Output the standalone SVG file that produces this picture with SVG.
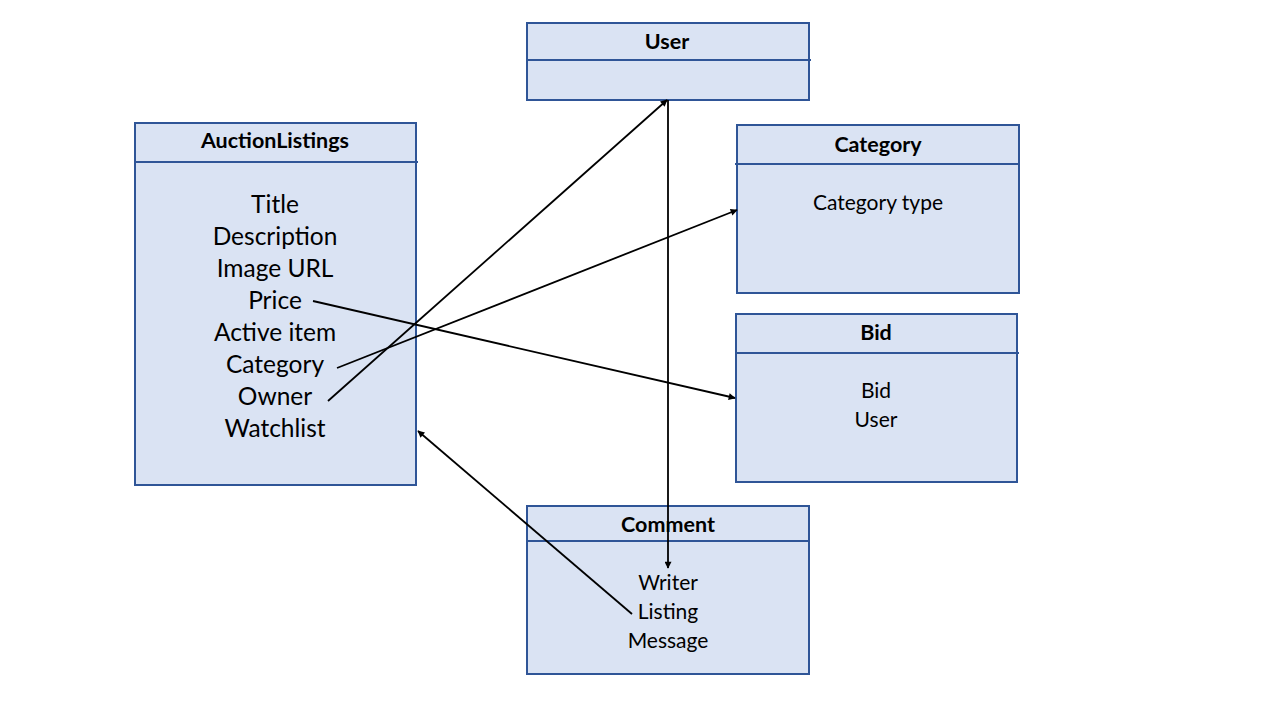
<svg xmlns="http://www.w3.org/2000/svg" width="1280" height="720" viewBox="0 0 1280 720">
<style>
.box{fill:#DAE3F3;stroke:#2F5597;stroke-width:2}
.div{stroke:#2F5597;stroke-width:2}
.hd{font-family:Lato,"Open Sans","Liberation Sans",sans-serif;font-weight:bold;font-size:21.5px;fill:#000;text-anchor:middle}
.big{font-family:Lato,"Open Sans","Liberation Sans",sans-serif;font-size:24.5px;fill:#000;text-anchor:middle}
.sm{font-family:Lato,"Open Sans","Liberation Sans",sans-serif;font-size:21px;fill:#000;text-anchor:middle}
.con{stroke:#000;stroke-width:1.8;fill:none;marker-end:url(#ah)}
</style>
<defs>
<marker id="ah" viewBox="0 0 10 10" refX="9" refY="5" markerWidth="8" markerHeight="7" orient="auto" markerUnits="userSpaceOnUse">
<path d="M0,0 L10,5 L0,10 z" fill="#000"/>
</marker>
</defs>
<rect width="1280" height="720" fill="#fff"/>
<g id="user">
<rect class="box" x="527" y="23" width="282" height="77"/>
<line class="div" x1="527" y1="60" x2="811" y2="60"/>
<text class="hd" x="667" y="49">User</text>
</g>
<g id="auctionlistings">
<rect class="box" x="135" y="123" width="281" height="362"/>
<line class="div" x1="135" y1="162" x2="418" y2="162"/>
<text class="hd" x="275" y="148">AuctionListings</text>
<text class="big" x="275" y="213">Title</text>
<text class="big" x="275" y="245">Description</text>
<text class="big" x="275" y="277">Image URL</text>
<text class="big" x="275" y="309">Price</text>
<text class="big" x="275" y="341">Active item</text>
<text class="big" x="275" y="373">Category</text>
<text class="big" x="275" y="405">Owner</text>
<text class="big" x="275" y="437">Watchlist</text>
</g>
<g id="category">
<rect class="box" x="737" y="125" width="282" height="168"/>
<line class="div" x1="735" y1="164" x2="1019" y2="164"/>
<text class="hd" x="878" y="152">Category</text>
<text class="sm" x="878" y="210">Category type</text>
</g>
<g id="bid">
<rect class="box" x="736" y="314" width="281" height="168"/>
<line class="div" x1="736" y1="353" x2="1019" y2="353"/>
<text class="hd" x="876" y="340">Bid</text>
<text class="sm" x="876" y="398">Bid</text>
<text class="sm" x="876" y="427">User</text>
</g>
<g id="comment">
<rect class="box" x="527" y="506" width="282" height="168"/>
<line class="div" x1="527" y1="541" x2="809" y2="541"/>
<text class="hd" x="668" y="532">Comment</text>
<text class="sm" x="668" y="590">Writer</text>
<text class="sm" x="668" y="619">Listing</text>
<text class="sm" x="668" y="648">Message</text>
</g>
<g id="connectors">
<line class="con" x1="328" y1="401" x2="667" y2="100"/>
<line class="con" x1="337" y1="368" x2="737" y2="210"/>
<line class="con" x1="313" y1="301" x2="735" y2="398"/>
<line class="con" x1="668" y1="100" x2="668" y2="568"/>
<line class="con" x1="632" y1="614" x2="418" y2="431"/>
</g>
</svg>
